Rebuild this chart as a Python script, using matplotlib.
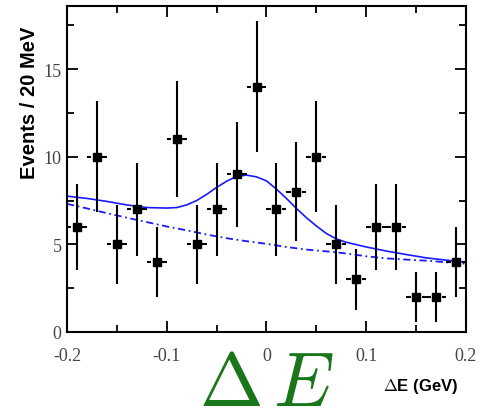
import numpy as np
import matplotlib
matplotlib.use("Agg")
import matplotlib.pyplot as plt

plt.rcParams['axes.unicode_minus'] = False
plt.rcParams['mathtext.fontset'] = 'cm'

# data points (bin centres in GeV, events per 20 MeV bin)
de_centres = [-0.19, -0.17, -0.15, -0.13, -0.11, -0.09, -0.07, -0.05, -0.03, -0.01,
              0.01, 0.03, 0.05, 0.07, 0.09, 0.11, 0.13, 0.15, 0.17, 0.19]
events = [6, 10, 5, 7, 4, 11, 5, 7, 9, 14,
          7, 8, 10, 5, 3, 6, 6, 2, 2, 4]
events_err = [2.45, 3.16, 2.24, 2.65, 2.0, 3.32, 2.24, 2.65, 3.0, 3.74,
              2.65, 2.83, 3.16, 2.24, 1.73, 2.45, 2.45, 1.41, 1.41, 2.0]
bin_half = 0.01

# fit curves
bkg_x = [-0.20, -0.18, -0.16, -0.14, -0.12, -0.10, -0.08, -0.06, -0.04, -0.02, 0.00,
         0.02, 0.04, 0.06, 0.08, 0.10, 0.12, 0.14, 0.16, 0.18, 0.20]
bkg_y = [7.31, 7.05, 6.78, 6.52, 6.27, 6.02, 5.80, 5.56, 5.35, 5.18, 5.03,
         4.85, 4.70, 4.60, 4.48, 4.32, 4.20, 4.13, 4.07, 3.98, 3.89]

tot_x = [-0.20, -0.18, -0.16, -0.14, -0.12, -0.10, -0.09, -0.08, -0.07, -0.06, -0.05,
         -0.04, -0.03, -0.02, -0.01, 0.00, 0.01, 0.02, 0.03, 0.04, 0.05, 0.06, 0.07,
         0.08, 0.10, 0.12, 0.14, 0.16, 0.18, 0.20]
tot_y = [7.75, 7.62, 7.45, 7.25, 7.10, 7.07, 7.10, 7.25, 7.50, 7.85, 8.25,
         8.60, 8.88, 8.95, 8.85, 8.62, 8.15, 7.62, 7.05, 6.52, 6.05, 5.62, 5.31,
         5.12, 4.85, 4.62, 4.42, 4.23, 4.10, 3.98]

xticks = [-0.2, -0.1, 0, 0.1, 0.2]
xtick_labels = ['-0.2', '-0.1', '0', '0.1', '0.2']
yticks = [0, 5, 10, 15]

fig = plt.figure(figsize=(4.84, 4.14), dpi=100)
ax = fig.add_axes([0.1384, 0.1957, 0.8244, 0.7874])

# curves
ax.plot(tot_x, tot_y, color='#1a1aff', lw=1.2, zorder=2)
ax.plot(bkg_x, bkg_y, color='#1a1aff', lw=1.3, ls=(0, (4, 2, 1, 2)), zorder=2)

# error bars, ROOT style: horizontal bars with a small gap at the marker
x = np.array(de_centres)
y = np.array(events)
ax.vlines(x, y - np.array(events_err), y + np.array(events_err), color='black', lw=1.5, zorder=3)
gap = 0.0055
ax.hlines(y, x - bin_half, x - gap, color='black', lw=1.5, zorder=3)
ax.hlines(y, x + gap, x + bin_half, color='black', lw=1.5, zorder=3)
ax.plot(x, y, 's', color='black', ms=5.5, zorder=4)

ax.set_xlim(-0.2, 0.2)
ax.set_ylim(0, 18.6)
ax.set_xticks(xticks)
ax.set_xticklabels(xtick_labels)
ax.set_xticks(np.arange(-0.15, 0.2, 0.1), minor=True)
ax.set_yticks(yticks)
ax.set_yticks([2.5, 7.5, 12.5, 17.5], minor=True)

ax.tick_params(which='both', direction='in', top=True, right=True, width=1.3,
               colors='black', labelcolor='#444444')
ax.tick_params(which='major', length=8)
ax.tick_params(which='minor', length=5)
ax.tick_params(axis='x', which='major', pad=11)
ax.tick_params(axis='y', which='major', pad=4)
for lab in ax.get_xticklabels() + ax.get_yticklabels():
    lab.set_family('Liberation Serif')
    lab.set_fontsize(13)
for s in ax.spines.values():
    s.set_linewidth(1.5)

fig.text(30 / 484, 1 - 103 / 414, 'Events / 20 MeV', rotation=90, ha='center', va='center',
         fontsize=14.5, fontweight='bold', family='Liberation Sans')
fig.text(421 / 484, 1 - 387 / 414, r'$\Delta$E (GeV)', ha='center', va='center',
         fontsize=12, fontweight='bold', family='Liberation Sans')
fig.text(267 / 484, 1 - 406 / 414, r'$\Delta\,E$', ha='center', va='baseline',
         fontsize=55, color='#1a761a')

fig.savefig('out.png', dpi=100)
